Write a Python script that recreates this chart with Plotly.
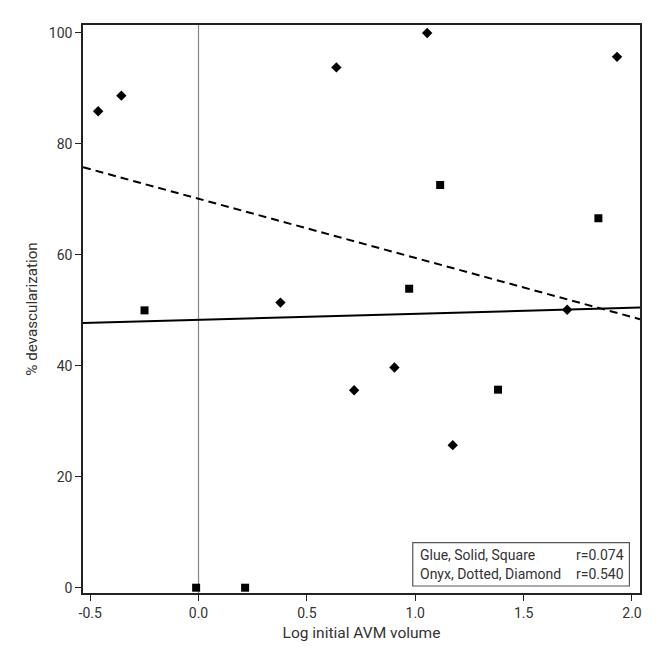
import plotly.graph_objects as go

# Glue (squares)
glue_x = [-0.249, -0.011, 0.215, 0.972, 1.115, 1.845, 1.382]
glue_y = [50.0, 0.0, 0.0, 53.9, 72.6, 66.6, 35.7]

# Onyx (diamonds)
onyx_x = [-0.463, -0.356, 0.636, 1.055, 1.931, 0.378, 0.718, 0.904, 1.173, 1.701]
onyx_y = [85.9, 88.7, 93.8, 100.0, 95.7, 51.4, 35.6, 39.7, 25.7, 50.1]

# fitted lines
fit_x = [-0.533, 2.037]
glue_fit_y = [47.7, 50.5]
onyx_fit_y = [75.8, 48.4]

x_ticks = [-0.5, 0.0, 0.5, 1.0, 1.5, 2.0]
x_tick_labels = ["-0.5", "0.0", "0.5", "1.0", "1.5", "2.0"]
y_ticks = [0, 20, 40, 60, 80, 100]

legend_rows = ["Glue, Solid, Square", "Onyx, Dotted, Diamond"]
legend_r = ["r=0.074", "r=0.540"]

FONT = "Roboto"
TXT = "#333333"

fig = go.Figure()
fig.add_trace(go.Scatter(x=fit_x, y=glue_fit_y, mode="lines",
                         line=dict(color="black", width=2), showlegend=False))
fig.add_trace(go.Scatter(x=fit_x, y=onyx_fit_y, mode="lines",
                         line=dict(color="black", width=2, dash="8px,5px"), showlegend=False))
fig.add_trace(go.Scatter(x=glue_x, y=glue_y, mode="markers",
                         marker=dict(symbol="square", size=8, color="black"), showlegend=False,
                         cliponaxis=False))
fig.add_trace(go.Scatter(x=onyx_x, y=onyx_y, mode="markers",
                         marker=dict(symbol="diamond", size=8, color="black"), showlegend=False,
                         cliponaxis=False))

# vertical reference line at x = 0
fig.add_shape(type="line", xref="x", yref="paper", x0=0, x1=0, y0=0, y1=1,
              line=dict(color="#888888", width=1.2), layer="below")

# legend box
fig.add_shape(type="rect", xref="paper", yref="paper", x0=0.592, x1=0.981, y0=0.0123, y1=0.0886,
              line=dict(color="#555555", width=1.2), fillcolor="white", layer="above")
for i, (t, r) in enumerate(zip(legend_rows, legend_r)):
    yy = [0.0669, 0.0329][i]
    fig.add_annotation(xref="paper", yref="paper", x=0.6015, y=yy, text=t, showarrow=False,
                       xanchor="left", yanchor="middle", font=dict(family=FONT, size=14, color=TXT))
    fig.add_annotation(xref="paper", yref="paper", x=0.9756, y=yy, text=r, showarrow=False,
                       xanchor="right", yanchor="middle", font=dict(family=FONT, size=14, color=TXT))

fig.update_layout(
    width=655, height=647,
    margin=dict(l=75, r=23, t=17, b=62),
    paper_bgcolor="white", plot_bgcolor="white",
    font=dict(family=FONT, size=14, color=TXT),
    xaxis=dict(range=[-0.533, 2.037], tickvals=x_ticks, ticktext=x_tick_labels,
               showgrid=False, zeroline=False, showline=True, linecolor="#222222", linewidth=1.5,
               mirror=True, ticks="outside", ticklen=6, tickwidth=1, tickcolor="#222222",
               automargin=False,
               title=dict(text="Log initial AVM volume", standoff=8, font=dict(size=15.5)),
               tickfont=dict(size=14)),
    yaxis=dict(range=[-0.955, 101.44], tickvals=y_ticks,
               showgrid=False, zeroline=False, showline=True, linecolor="#222222", linewidth=1.5,
               mirror=True, ticks="outside", ticklen=6, tickwidth=1, tickcolor="#222222",
               automargin=False,
               title=dict(text="% devascularization", standoff=8, font=dict(size=15.2)),
               tickfont=dict(size=14)),
)

fig.write_html("out.html")
